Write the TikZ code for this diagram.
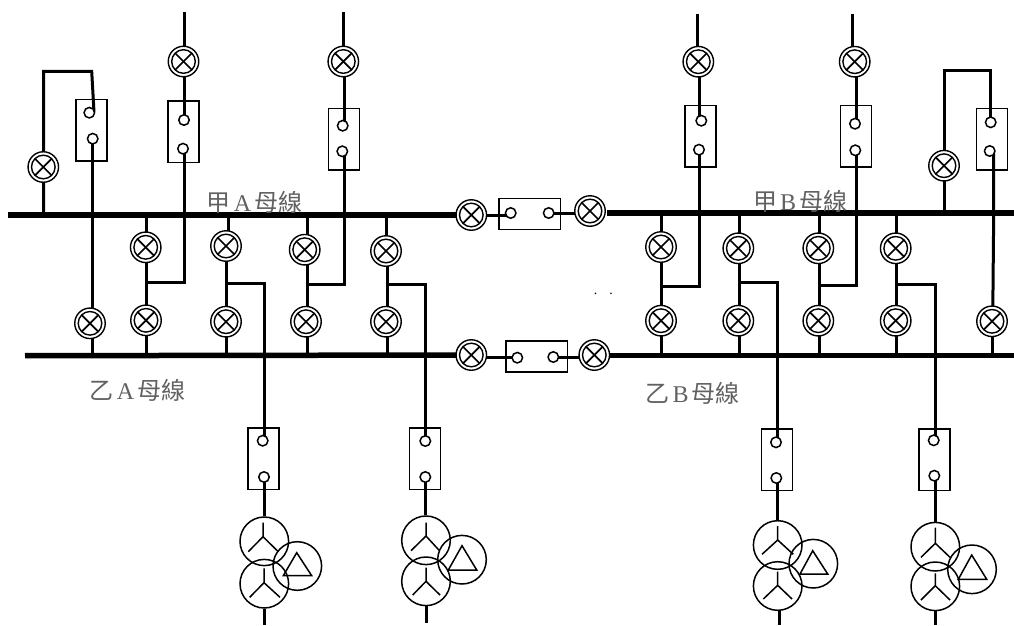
\documentclass[tikz,border=0pt]{standalone}
\usepackage{fontspec}
\usetikzlibrary{backgrounds}
\setmainfont{Liberation Serif}
\newfontfamily\cjk{Noto Sans CJK TC}
\tikzset{
  wire/.style={line width=3pt,line cap=butt,line join=miter},
  busbar/.style={line width=5.5pt},
  thinl/.style={line width=1.5pt},
  brk/.style={circle,draw,line width=1.4pt,minimum size=30.5pt,inner sep=0pt,fill=white,
    path picture={
      \draw[line width=1.4pt] (path picture bounding box.center) circle[radius=11.8pt];
      \draw[line width=1.7pt] ([shift={(-8.4pt,-8.4pt)}]path picture bounding box.center) -- ([shift={(8.4pt,8.4pt)}]path picture bounding box.center);
      \draw[line width=1.7pt] ([shift={(-8.4pt,8.4pt)}]path picture bounding box.center) -- ([shift={(8.4pt,-8.4pt)}]path picture bounding box.center);
    }},
  sw/.style={circle,draw,line width=1.5pt,minimum size=10.5pt,inner sep=0pt,fill=white},
  cbv/.style={draw,line width=1.5pt,minimum width=31pt,minimum height=61.5pt,inner sep=0pt},
  cbh/.style={draw,line width=1.5pt,minimum width=61.5pt,minimum height=31pt,inner sep=0pt},
  xf/.style={circle,draw,line width=1.5pt,minimum size=48.6pt,inner sep=0pt},
  lab/.style={inner sep=0pt,font=\fontsize{24pt}{24pt}\selectfont,text=black!62},
}
\newcommand{\bl}[1]{{\cjk #1}}
\begin{document}
\begin{tikzpicture}[x=1pt,y=-1pt]
\useasboundingbox (0,0) rectangle (1014,625);
% --- bus end points
\coordinate (busAL) at (8,215);
\coordinate (busBL) at (25,355.7);
\coordinate (busAR) at (607,213);
\coordinate (busBR) at (610,355.7);
\coordinate (busAE) at (1014,213);
\coordinate (busBE) at (1014,355.7);
% --- circuit breakers
\node[brk] (t1) at (183.5,61.5) {};
\node[brk] (t2) at (343.3,61.5) {};
\node[brk] (t3) at (698.3,61.7) {};
\node[brk] (t4) at (854.7,61.7) {};
\node[brk] (l1) at (43.3,167) {};
\node[brk] (r1) at (944,165.7) {};
\node[brk] (a1) at (145.7,247.3) {};
\node[brk] (a2) at (226,246) {};
\node[brk] (a3) at (304.7,249.7) {};
\node[brk] (a4) at (386,251) {};
\node[brk] (a5) at (661,247) {};
\node[brk] (a6) at (738.3,248.3) {};
\node[brk] (a7) at (818.3,248.3) {};
\node[brk] (a8) at (895.7,248.3) {};
\node[brk] (b0) at (90,323.3) {};
\node[brk] (b1) at (146,320.3) {};
\node[brk] (b2) at (226,321.7) {};
\node[brk] (b3) at (306,321.7) {};
\node[brk] (b4) at (386,321.7) {};
\node[brk] (b5) at (661,320.7) {};
\node[brk] (b6) at (738.3,320.7) {};
\node[brk] (b7) at (818.3,320.7) {};
\node[brk] (b8) at (895.7,320.7) {};
\node[brk] (b9) at (992,321.3) {};
\node[brk] (cA1) at (471.3,215) {};
\node[brk] (cA2) at (590,211) {};
\node[brk] (cB1) at (471.3,355) {};
\node[brk] (cB2) at (594.3,355) {};
% --- disconnect boxes
\node[cbv] (q1) at (91.5,130.3) {};
\node[cbv] (q2) at (183.5,131.8) {};
\node[cbv] (q3) at (343.8,139.2) {};
\node[cbv] (q4) at (700.5,136.3) {};
\node[cbv] (q5) at (855.8,136.3) {};
\node[cbv] (q6) at (991.8,139.2) {};
\node[cbv] (q7) at (263.5,458.5) {};
\node[cbv] (q8) at (424.8,458.5) {};
\node[cbv] (q9) at (777.2,459.8) {};
\node[cbv] (q10) at (934.5,459.8) {};
\node[cbh] (qA) at (529.5,213.8) {};
\node[cbh] (qB) at (536.8,356.5) {};
% --- contacts
\node[sw] (s1u) at (89.3,112.7) {};
\node[sw] (s1d) at (92.7,138.7) {};
\node[sw] (s2u) at (184,120) {};
\node[sw] (s2d) at (183,148.7) {};
\node[sw] (s3u) at (342.7,125.7) {};
\node[sw] (s3d) at (342.3,151.3) {};
\node[sw] (s4u) at (701.3,120.7) {};
\node[sw] (s4d) at (699,149.7) {};
\node[sw] (s5u) at (855,123.7) {};
\node[sw] (s5d) at (855.3,150.3) {};
\node[sw] (s6u) at (990.7,122.3) {};
\node[sw] (s6d) at (989.7,151) {};
\node[sw] (s7u) at (262.7,440.7) {};
\node[sw] (s7d) at (264,477) {};
\node[sw] (s8u) at (425.3,441) {};
\node[sw] (s8d) at (425.3,477) {};
\node[sw] (s9u) at (776,442.3) {};
\node[sw] (s9d) at (776.3,478) {};
\node[sw] (s10u) at (933.7,440.3) {};
\node[sw] (s10d) at (934.3,475.7) {};
\node[sw] (sAl) at (510.7,213) {};
\node[sw] (sAr) at (548.7,213) {};
\node[sw] (sBl) at (517.3,357.7) {};
\node[sw] (sBr) at (553.3,357) {};
% --- transformers
\node[xf] (x1a) at (264.3,541.3) {};
\node[xf] (x1b) at (264.3,583.7) {};
\node[xf] (x1c) at (297.3,566) {};
\node[xf] (x2a) at (426,540.3) {};
\node[xf] (x2b) at (426,581.3) {};
\node[xf] (x2c) at (462,559.7) {};
\node[xf] (x3a) at (777.7,545) {};
\node[xf] (x3b) at (777.7,586) {};
\node[xf] (x3c) at (813.3,563.7) {};
\node[xf] (x4a) at (935.3,546.7) {};
\node[xf] (x4b) at (935.3,586.3) {};
\node[xf] (x4c) at (972,569.3) {};
% --- winding symbols
\draw[thinl] (263,522.7) -- (263,536.7) (248.3,551.7) -- (263,536.7) -- (278.3,551.7);
\draw[thinl] (264,568.3) -- (264,582.7) (249.7,597.3) -- (264,582.7) -- (280,597.3);
\draw[thinl] (296.7,552.7) -- (283.3,575.7) -- (311.7,575.7) -- cycle;
\draw[thinl] (426,522.7) -- (426,536) (411,550.7) -- (426,536) -- (439.5,550.7);
\draw[thinl] (426,567.7) -- (426,581.3) (412.7,595) -- (426,581.3) -- (440,595);
\draw[thinl] (462,545.7) -- (448.3,570) -- (476.7,570) -- cycle;
\draw[thinl] (777.7,526) -- (777.7,540) (762,554.3) -- (777.7,540) -- (793.3,554.3);
\draw[thinl] (777.7,571.7) -- (777.7,585.3) (763.3,599) -- (777.7,585.3) -- (792,599);
\draw[thinl] (812.7,550.7) -- (800,574) -- (827.7,574) -- cycle;
\draw[thinl] (935.3,527.7) -- (935.3,543.3) (921,557.3) -- (935.3,543.3) -- (950,557.3);
\draw[thinl] (935.3,573.3) -- (935.3,585.7) (921,600) -- (935.3,585.7) -- (950,600);
\draw[thinl] (971.7,555) -- (958.3,579.3) -- (986.7,579.3) -- cycle;
% --- free ends and corners
\coordinate (t1top) at (184,12);
\coordinate (t2top) at (343,12);
\coordinate (t3top) at (697.7,14);
\coordinate (t4top) at (852.7,14);
\coordinate (x1end) at (264.3,625);
\coordinate (x2end) at (426,622.7);
\coordinate (x3end) at (779.3,625);
\coordinate (x4end) at (935,625);
\coordinate (jl1) at (43.7,71.3);
\coordinate (jl2) at (91.7,71.3);
\coordinate (jl3) at (94,112);
\coordinate (jr1) at (944.7,70.7);
\coordinate (jr2) at (990.7,70.7);
\coordinate (jq9) at (993.7,153);
\coordinate (jq9b) at (993.7,213);
\coordinate (jq9c) at (992.7,321);
\coordinate (j1) at (146.4,282);
\coordinate (j1c) at (184,282);
\coordinate (j2) at (226.3,283);
\coordinate (j2c) at (264.3,283);
\coordinate (j3) at (307,284);
\coordinate (j3c) at (344,284);
\coordinate (j4) at (387,284);
\coordinate (j4c) at (425.7,284);
\coordinate (j5) at (661.7,286);
\coordinate (j5c) at (699.5,286);
\coordinate (j6) at (738.7,282.7);
\coordinate (j6c) at (777.7,282.7);
\coordinate (j7) at (819.3,285.3);
\coordinate (j7c) at (856.7,285.3);
\coordinate (j8) at (896.7,284);
\coordinate (j8c) at (935,284);
\begin{pgfonlayer}{background}
% --- buses
\draw[busbar] (busAL) -- (cA1.center);
\draw[busbar] (busBL) -- (cB1.center);
\draw[busbar] (busAR) -- (busAE);
\draw[busbar] (busBR) -- (busBE);
% --- couplers
\draw[wire] (cA1.center) -- (cA1.center -| sAl.center);
\draw[wire] (sAr.center) -- (sAr.center -| cA2.center);
\draw[wire] (sBl.center) -- (sBl.center -| cB1.center);
\draw[wire] (sBr.center) -- (sBr.center -| cB2.center);
% --- feeders on the A bus
\draw[wire] (jl1 |- busAL) -- (jl1) -- (jl2) -- (jl3);
\draw[wire] (q1.center |- s1d.center) ++(0.5,0) -- (92,355.7);
\draw[wire] (t1top) -- (t1top |- s2u.center);
\draw[wire] (t1top |- s2d.center) -- (t1top |- j1c) -- (j1);
\draw[wire] (t2top) -- (t2top |- t2.center);
\draw[wire] (j3c |- t2.center) -- (j3c |- s3u.center);
\draw[wire] (j3c |- s3d.center) -- (j3c) -- (j3);
% --- breaker pairs
\foreach \u/\d/\top/\bot/\dt/\dm in {a1/b1/busAL/busBL/0.7/0.7,a2/b2/busAL/busBL/2/0.3,a3/b3/busAL/busBL/2.3/2.3,a4/b4/busAL/busBL/0.7/1,
  a5/b5/busAR/busBR/0.7/0.7,a6/b6/busAR/busBR/0.7/0.7,a7/b7/busAR/busBR/1/1,a8/b8/busAR/busBR/1/1}{
  \draw[wire] ([xshift=\dt pt]\u.center |- \top) -- ([xshift=\dt pt]\u.center);
  \draw[wire] ([xshift=\dm pt]\u.center) -- ([xshift=\dm pt]\u.center |- \bot);
}
% --- transformer feeders
\draw[wire] (j2) -- (j2c) -- (j2c |- s7u.center);
\draw[wire] (j2c |- s7d.center) -- (j2c |- x1a.north);
\draw[wire] (x1end |- x1b.south) -- (x1end);
\draw[wire] (j4) -- (j4c) -- (j4c |- s8u.center);
\draw[wire] (j4c |- s8d.center) -- (j4c |- x2a.north);
\draw[wire] (x2end |- x2b.south) -- (x2end);
\draw[wire] (j6) -- (j6c) -- (j6c |- s9u.center);
\draw[wire] (j6c |- s9d.center) -- (j6c |- x3a.north);
\draw[wire] (x3end |- x3b.south) -- (x3end);
\draw[wire] (j8) -- (j8c) -- (j8c |- s10u.center);
\draw[wire] (j8c |- s10d.center) -- (j8c |- x4a.north);
\draw[wire] (x4end |- x4b.south) -- (x4end);
% --- right-hand feeders
\draw[wire] (t3top) -- (t3top |- t3.center);
\draw[wire] (j5c |- t3.center) -- (j5c |- s4u.center);
\draw[wire] (j5c |- s4d.center) -- (j5c) -- (j5);
\draw[wire] (t4top) -- (t4top |- t4.center);
\draw[wire] (j7c |- t4.center) -- (j7c |- s5u.center);
\draw[wire] (j7c |- s5d.center) -- (j7c) -- (j7);
\draw[wire] (jr1 |- busAE) -- (jr1) -- (jr2) -- (jr2 |- s6u.center);
\draw[wire] (jq9) -- (jq9b) -- (jq9c);
\draw[wire] (b9.center) -- (b9.center |- busBE);
\end{pgfonlayer}
% --- labels
\node[lab] (la) at (254.5,202) {\bl{甲}\hspace{3pt}A\hspace{3pt}\bl{母線}};
\node[lab] (lb) at (137.5,390) {\bl{乙}\hspace{3pt}A\hspace{3pt}\bl{母線}};
\node[lab] (lc) at (800,201) {\bl{甲}\hspace{3pt}B\hspace{3pt}\bl{母線}};
\node[lab] (ld) at (692.5,393) {\bl{乙}\hspace{3pt}B\hspace{3pt}\bl{母線}};
\node[inner sep=0pt,font=\fontsize{14pt}{14pt}\selectfont] (dots) at (603.3,294) {.\hspace{12pt}.};
\end{tikzpicture}
\end{document}
